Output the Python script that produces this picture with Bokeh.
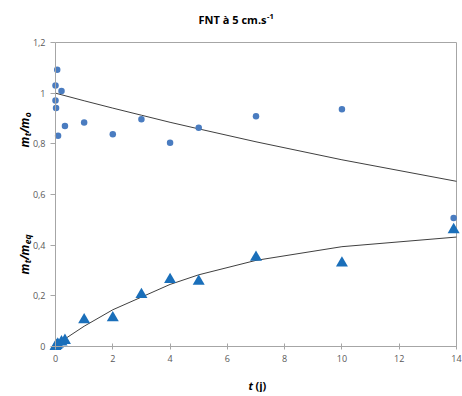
import math
from bokeh.plotting import figure
from bokeh.models import Range1d, LinearAxis, FixedTicker, Label, CustomJSTickFormatter
from bokeh.embed import file_html
from bokeh.resources import INLINE

# ---- data ----
t_circ = [0, 0, 0.02, 0.06, 0.09, 0.21, 0.33, 1, 2, 3, 4, 5, 7, 10, 13.9]
r_circ = [1.030, 0.971, 0.941, 1.092, 0.832, 1.009, 0.870, 0.884, 0.838, 0.897, 0.804, 0.863, 0.909, 0.937, 0.507]

t_tri = [0, 0.04, 0.08, 0.21, 0.33, 1, 2, 3, 4, 5, 7, 10, 13.9]
r_tri = [0, 0.004, 0.009, 0.018, 0.024, 0.105, 0.113, 0.205, 0.264, 0.257, 0.352, 0.329, 0.461]

t_fit_o = [0, 1, 2, 3, 4, 5, 7, 10, 14]
fit_o = [1.0, 0.970, 0.941, 0.913, 0.885, 0.859, 0.808, 0.737, 0.652]

t_fit_eq = [0, 0.33, 1, 2, 3, 4, 5, 7, 10, 14]
fit_eq = [0, 0.03, 0.08, 0.145, 0.195, 0.245, 0.283, 0.34, 0.394, 0.432]

x_ticks = [0, 2, 4, 6, 8, 10, 12, 14]
x_tick_labels = ["0", "2", "4", "6", "8", "10", "12", "14"]
y_ticks = [0, 0.2, 0.4, 0.6, 0.8, 1.0, 1.2]
y_tick_labels = ["0", "0,2", "0,4", "0,6", "0,8", "1", "1,2"]

# ---- layout (pixels) ----
W, H = 462, 392
AX0, AXR, AY0, AYT = 55, 456, 346, 42   # axis box edges
XMAX, YMAX = x_ticks[-1], y_ticks[-1]
sx = (AXR - AX0) / XMAX
sy = (AY0 - AYT) / YMAX


def dx(px):
    return (px - AX0) / sx


def dy(py):
    return (AY0 - py) / sy


p = figure(width=W, height=H, output_backend="svg", toolbar_location=None,
           x_range=Range1d(dx(0), dx(W)), y_range=Range1d(dy(H), dy(0)),
           x_axis_type=None, y_axis_type=None, title=None,
           min_border_left=0, min_border_right=0,
           min_border_top=0, min_border_bottom=0)
p.outline_line_color = None
p.background_fill_color = "white"
p.border_fill_color = "white"

AXC = "#A6A6A6"
TXC = "#595959"
FONT = "Open Sans"


def fmt(tv, tl):
    return CustomJSTickFormatter(args=dict(tv=tv, tl=tl), code="""
        const i = tv.findIndex(v => Math.abs(v - tick) < 1e-9);
        return i >= 0 ? tl[i] : '';
    """)


yaxis = LinearAxis(fixed_location=0, bounds=(0, YMAX),
                   ticker=FixedTicker(ticks=y_ticks), formatter=fmt(y_ticks, y_tick_labels),
                   axis_line_color=AXC, major_tick_line_color=AXC,
                   major_tick_out=5, major_tick_in=0, minor_tick_out=0, minor_tick_in=0,
                   major_label_standoff=5, major_label_text_font=FONT,
                   major_label_text_font_size="9px", major_label_text_color=TXC)
p.add_layout(yaxis, "left")

xaxis = LinearAxis(fixed_location=0, bounds=(0, XMAX),
                   ticker=FixedTicker(ticks=x_ticks), formatter=fmt(x_ticks, x_tick_labels),
                   axis_line_color=AXC, major_tick_line_color=AXC,
                   major_tick_out=3, major_tick_in=3, minor_tick_out=0, minor_tick_in=0,
                   major_label_standoff=5, major_label_text_font=FONT,
                   major_label_text_font_size="9px", major_label_text_color=TXC)
p.add_layout(xaxis, "below")

# plot-area border (top & right)
p.line([0, XMAX, XMAX], [YMAX, YMAX, 0], line_color=AXC, line_width=1)

# fitted curves
p.line(t_fit_o, fit_o, line_color="#404040", line_width=1)
p.line(t_fit_eq, fit_eq, line_color="#404040", line_width=1)

# data points
p.scatter(t_circ, r_circ, marker="circle", size=6.5, fill_color="#4A7CC0", line_color=None)
p.scatter(t_tri, r_tri, marker="triangle", size=12, fill_color="#1A6FBA", line_color=None)


def lab(text, px, py, size, style="bold", align="left", angle=0.0, color="#000000"):
    p.add_layout(Label(x=dx(px), y=dy(py), text=text, text_font=FONT,
                       text_font_size=f"{size}px", text_font_style=style,
                       text_align=align, text_baseline="alphabetic",
                       angle=angle, text_color=color))


# title
lab("FNT à 5 cm.s", 266, 19.3, 11, align="right")
lab("-1", 266.5, 15.5, 7.5)

# y labels (rotated)
A = math.pi / 2
BX, SBX = 24, 26.5
lab("m", BX, 147, 12, "bold italic", angle=A)
lab("t", SBX, 135.7, 8.5, "bold italic", angle=A)
lab("/", BX, 132.4, 12, "bold italic", angle=A)
lab("m", BX, 128, 12, "bold italic", angle=A)
lab("o", SBX, 116.7, 8.5, "bold italic", angle=A)

lab("m", BX, 274, 12, "bold italic", angle=A)
lab("t", SBX, 262.7, 8.5, "bold italic", angle=A)
lab("/", BX, 259.4, 12, "bold italic", angle=A)
lab("m", BX, 255, 12, "bold italic", angle=A)
lab("eq", SBX, 243.7, 8.5, "bold italic", angle=A)

# x label
lab("t", 248, 385, 11, "bold italic")
lab("(j)", 255, 385, 11, "bold")

open("out.html", "w").write(file_html(p, INLINE))
